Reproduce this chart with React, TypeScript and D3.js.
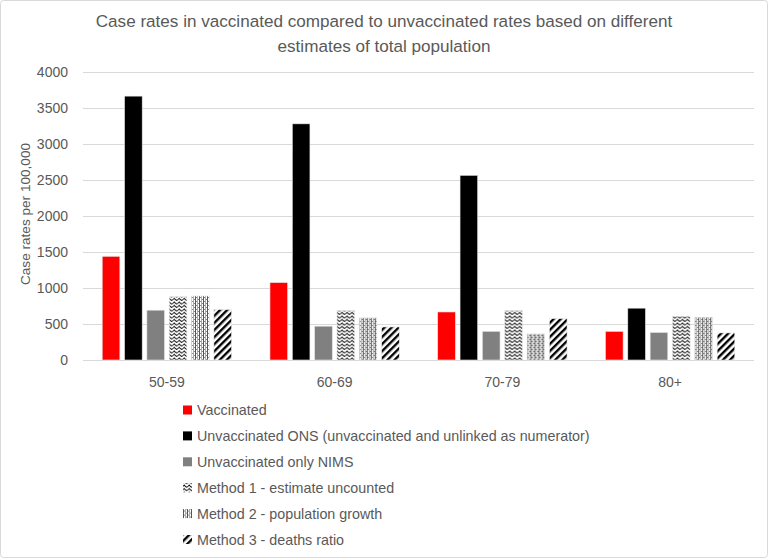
import * as d3 from "d3";
import React, { useEffect, useRef } from "react";

const categories = ["50-59", "60-69", "70-79", "80+"];
const seriesNames = [
  "Vaccinated",
  "Unvaccinated ONS (unvaccinated and unlinked as numerator)",
  "Unvaccinated only NIMS",
  "Method 1 - estimate uncounted",
  "Method 2 - population growth",
  "Method 3 - deaths ratio",
];
const vaccinated = [1440, 1075, 667, 398];
const unvaccinatedONS = [3665, 3280, 2565, 720];
const unvaccinatedNIMS = [692, 470, 398, 382];
const method1 = [878, 686, 686, 607];
const method2 = [889, 585, 362, 594];
const method3 = [700, 459, 575, 376];
const yTicks = [0, 500, 1000, 1500, 2000, 2500, 3000, 3500, 4000];

const fills = ["#ff0000", "#000000", "#808080", "url(#wave)", "url(#vstripe)", "url(#diag)"];

export default function App() {
  const ref = useRef(null);

  useEffect(() => {
    const width = 768;
    const height = 558;
    const margin = { top: 72, right: 14, bottom: 198, left: 83 };
    const font = "'Liberation Sans', Arial, sans-serif";
    const textColor = "#595959";

    const allSeries = [vaccinated, unvaccinatedONS, unvaccinatedNIMS, method1, method2, method3];

    const root = d3.select(ref.current);
    root.selectAll("*").remove();

    const svg = root
      .append("svg")
      .attr("width", width)
      .attr("height", height)
      .style("position", "absolute")
      .style("left", 0)
      .style("top", 0)
      .style("font-family", font);

    // patterns
    const defs = svg.append("defs");
    const wave = defs
      .append("pattern")
      .attr("id", "wave")
      .attr("patternUnits", "userSpaceOnUse")
      .attr("width", 5)
      .attr("height", 3.5);
    wave.append("rect").attr("width", 5).attr("height", 3.5).attr("fill", "#fff");
    wave
      .append("path")
      .attr("d", "M0,2.2 L1.25,0.9 L2.5,2.2 L3.75,3.0 L5,2.2")
      .attr("fill", "none")
      .attr("stroke", "#000")
      .attr("stroke-width", 0.9);

    const vstripe = defs
      .append("pattern")
      .attr("id", "vstripe")
      .attr("patternUnits", "userSpaceOnUse")
      .attr("width", 4)
      .attr("height", 4);
    vstripe.append("rect").attr("width", 4).attr("height", 4).attr("fill", "#fff");
    vstripe.append("rect").attr("x", 0).attr("width", 1).attr("height", 4).attr("fill", "#555");
    vstripe.append("rect").attr("x", 2).attr("width", 1).attr("height", 4).attr("fill", "#aaa");
    vstripe.append("rect").attr("x", 1).attr("y", 1).attr("width", 1).attr("height", 1).attr("fill", "#888");
    vstripe.append("rect").attr("x", 3).attr("y", 3).attr("width", 1).attr("height", 1).attr("fill", "#888");

    const diag = defs
      .append("pattern")
      .attr("id", "diag")
      .attr("patternUnits", "userSpaceOnUse")
      .attr("width", 5)
      .attr("height", 5)
      .attr("patternTransform", "rotate(45)");
    diag.append("rect").attr("width", 5).attr("height", 5).attr("fill", "#fff");
    diag.append("rect").attr("width", 2.4).attr("height", 5).attr("fill", "#000");

    // border
    svg
      .append("rect")
      .attr("x", 0.5)
      .attr("y", 0.5)
      .attr("width", width - 1)
      .attr("height", height - 1)
      .attr("rx", 3)
      .attr("fill", "#fff")
      .attr("stroke", "#d9d9d9");

    // title
    const title = svg
      .append("text")
      .attr("text-anchor", "middle")
      .attr("fill", textColor)
      .style("font-size", "17.1px");
    title.append("tspan").attr("x", width / 2).attr("y", 27).text("Case rates in vaccinated compared to unvaccinated rates based on different");
    title.append("tspan").attr("x", width / 2).attr("y", 52).text("estimates of total population");

    const x0 = d3
      .scaleBand()
      .domain(categories)
      .range([margin.left, width - margin.right])
      .padding(0);
    const x1 = d3
      .scaleBand()
      .domain(seriesNames)
      .range([0, x0.bandwidth()])
      .paddingInner(0.21)
      .paddingOuter(0.86);
    const y = d3
      .scaleLinear()
      .domain([0, 4000])
      .range([height - margin.bottom, margin.top]);

    // grid
    svg
      .append("g")
      .selectAll("line")
      .data(yTicks)
      .join("line")
      .attr("x1", margin.left)
      .attr("x2", width - margin.right)
      .attr("y1", (d) => Math.round(y(d)) + 0.5)
      .attr("y2", (d) => Math.round(y(d)) + 0.5)
      .attr("stroke", "#d9d9d9")
      .attr("stroke-width", 1);

    // y tick labels
    svg
      .append("g")
      .selectAll("text")
      .data(yTicks)
      .join("text")
      .attr("x", 68)
      .attr("y", (d) => y(d))
      .attr("dy", "0.35em")
      .attr("text-anchor", "end")
      .attr("fill", textColor)
      .style("font-size", "14px")
      .text((d) => d);

    // y axis title
    svg
      .append("text")
      .attr("transform", `translate(30, ${y(2000) - 2}) rotate(-90)`)
      .attr("text-anchor", "middle")
      .attr("fill", textColor)
      .style("font-size", "13.6px")
      .text("Case rates per 100,000");

    // bars
    const groups = svg
      .append("g")
      .selectAll("g")
      .data(categories)
      .join("g")
      .attr("transform", (d) => `translate(${x0(d)},0)`);

    groups
      .selectAll("rect")
      .data((d, i) => seriesNames.map((s, j) => ({ s, j, value: allSeries[j][i] })))
      .join("rect")
      .attr("x", (d) => x1(d.s))
      .attr("width", x1.bandwidth())
      .attr("y", (d) => y(d.value))
      .attr("height", (d) => y(0) - y(d.value))
      .attr("fill", (d) => fills[d.j])
      .attr("stroke", "#e6e6e6")
      .attr("stroke-width", 0.6);

    // x labels
    svg
      .append("g")
      .selectAll("text")
      .data(categories)
      .join("text")
      .attr("x", (d) => x0(d) + x0.bandwidth() / 2)
      .attr("y", 382)
      .attr("dy", "0.35em")
      .attr("text-anchor", "middle")
      .attr("fill", textColor)
      .style("font-size", "14px")
      .text((d) => d);

    // legend
    const legend = svg
      .append("g")
      .selectAll("g")
      .data(seriesNames)
      .join("g")
      .attr("transform", (d, i) => `translate(183, ${410 + i * 25.9})`);
    legend
      .append("rect")
      .attr("x", 0)
      .attr("y", -4.5)
      .attr("width", 9)
      .attr("height", 9)
      .attr("fill", (d, i) => fills[i]);
    legend
      .append("text")
      .attr("x", 14)
      .attr("dy", "0.35em")
      .attr("fill", textColor)
      .style("font-size", "14.3px")
      .text((d) => d);
  }, []);

  return <div ref={ref}></div>;
}
